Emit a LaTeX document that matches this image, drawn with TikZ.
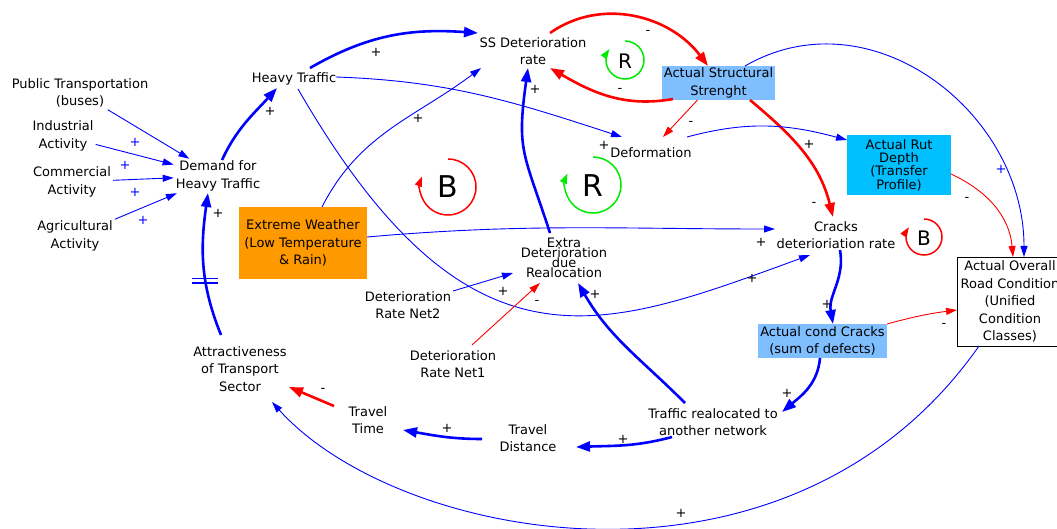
\documentclass[tikz,border=0pt]{standalone}
\usepackage{fontspec}
\setmainfont{DejaVu Sans}
\usetikzlibrary{arrows.meta}
\definecolor{cblue}{RGB}{0,0,255}
\definecolor{cred}{RGB}{255,0,0}
\definecolor{cgreen}{RGB}{0,235,0}
\definecolor{orangebox}{RGB}{255,153,0}
\definecolor{lightbox}{RGB}{128,191,255}
\definecolor{rutbox}{RGB}{0,191,255}
\begin{document}
\begin{tikzpicture}[x=1pt,y=1pt,
  every node/.style={font=\fontsize{13}{17.5}\selectfont, align=center, inner sep=2pt, text=black},
  boxnode/.style={inner sep=0pt},
  lnk/.style={color=cblue, line width=0.9pt, -{Triangle[length=11pt,width=7pt]}},
  lnkr/.style={lnk, color=cred},
  lnkb/.style={color=cblue, line width=2.6pt, -{Triangle[length=14pt,width=10pt]}},
  lnkbr/.style={lnkb, color=cred},
  loopr/.style={color=cred, line width=1.5pt, -{Triangle[length=10pt,width=7pt]}},
  loopg/.style={loopr, color=cgreen},
  bigletter/.style={font=\fontsize{30}{30}\selectfont, inner sep=0pt},
  smallletter/.style={font=\fontsize{20}{20}\selectfont, inner sep=0pt},
  sgn/.style={inner sep=0pt},
  bsgn/.style={inner sep=0pt, text=cblue},
  tight/.style={font={\fontsize{13}{13.3}\selectfont\lineskiplimit=-50pt}},
  squeezed/.style={font={\fontsize{13}{10}\selectfont\lineskiplimit=-50pt}}
]
\fill[white] (0,0) rectangle (1057,-529);
\path[use as bounding box] (0,0) rectangle (1057,-529);

% ---------- variables ----------
\node (pt) at (80,-93) {Public Transportation\\(buses)};
\node (ia) at (63,-136) {Industrial\\Activity};
\node (ca) at (72,-182) {Commercial\\Activity};
\node (aa) at (75,-236) {Agricultural\\Activity};
\node (dem) at (218,-176) {Demand for\\Heavy Traffic};
\node (ht) at (294,-79) {Heavy Traffic};
\node (ss) at (533,-51) {SS Deterioration\\rate};
\node[boxnode, fill=lightbox, minimum width=113pt, minimum height=34pt] (ass) at (718.5,-83) {Actual Structural\\Strenght};
\node (def) at (651,-153) {Deformation};
\node[boxnode, tight, fill=rutbox, minimum width=104pt, minimum height=60pt] (ard) at (899,-165) {Actual Rut\\Depth\\(Transfer\\Profile)};
\node (cdr) at (836,-235) {Cracks\\deterioriation rate};
\node[boxnode, draw=black, line width=0.8pt, fill=white, minimum width=106pt, minimum height=89pt] (aor) at (1010,-301.5) {Actual Overall\\Road Condition\\(Unified\\Condition\\Classes)};
\node[boxnode, fill=orangebox, minimum width=128pt, minimum height=72pt] (ew) at (303,-243) {Extreme Weather\\(Low Temperature\\\& Rain)};
\node[squeezed] (edr) at (564,-258) {Extra\\Deterioration\\due\\Realocation};
\node (drn2) at (408,-305) {Deterioration\\Rate Net2};
\node (drn1) at (453,-364) {Deterioration\\Rate Net1};
\node (att) at (240,-369) {Attractiveness\\of Transport\\Sector};
\node (tt) at (368,-420) {Travel\\Time};
\node (td) at (528,-438) {Travel\\Distance};
\node (tra) at (713,-422) {Traffic realocated to\\another network};
\node[boxnode, fill=lightbox, minimum width=129pt, minimum height=34pt] (acc) at (822.5,-341) {Actual cond Cracks\\(sum of defects)};

% ---------- connectors ----------
\draw[lnk] (pt) -- (dem);
\draw[lnk] (ia) -- (dem);
\draw[lnk] (ca) -- (dem);
\draw[lnk] (aa) -- (dem);
\draw[lnkb] ([shift={(4,16)}]dem.center) to[out=65,in=228] ([shift={(-17,-9)}]ht.center);
\draw[lnkb] ([shift={(16,11)}]ht.center) to[out=30,in=176] ([shift={(-55,18)}]ss.center);
\draw[lnk] ([shift={(42,2)}]ht.center) to[out=-2,in=162] ([shift={(-29,16)}]def.center);
\draw[lnk] ([shift={(4,-10)}]ht.center) .. controls +(-60:343) and +(200:222) .. ([shift={(-26,-20)}]cdr.center);
\draw[lnk] ([shift={(19,36)}]ew.center) to[out=63,in=217] ([shift={(-52,-17)}]ss.center);
\draw[lnk] ([shift={(64,6)}]ew.center) to[out=5,in=180] ([shift={(-61,6)}]cdr.center);
\draw[lnkb] ([shift={(-14,25)}]edr.center) to[out=108,in=262,looseness=1.3] ([shift={(-5,-17)}]ss.center);
\draw[lnkbr] ([shift={(17,18)}]ss.center) to[out=35,in=127] ([shift={(-10.5,17)}]ass.center);
\draw[lnkbr] ([shift={(-45.5,-16)}]ass.center) to[out=190,in=-30] ([shift={(17,-17)}]ss.center);
\draw[lnkr] ([shift={(-21,-17)}]ass.center) -- ([shift={(12,16)}]def.center);
\draw[lnkbr] ([shift={(31.5,-17)}]ass.center) to[out=-40,in=104] ([shift={(-3,18)}]cdr.center);
\draw[lnk] ([shift={(26.5,17)}]ass.center) to[out=30,in=90,looseness=1.1] ([shift={(14,44.5)}]aor.center);
\draw[lnk] ([shift={(36,16)}]def.center) to[out=15,in=165] ([shift={(-52,25)}]ard.center);
\draw[lnkr] ([shift={(52,-9)}]ard.center) to[out=-25,in=95] ([shift={(3,44.5)}]aor.center);
\draw[lnkb] ([shift={(4,-15)}]cdr.center) to[out=-80,in=100] ([shift={(10.5,17)}]acc.center);
\draw[lnkr] ([shift={(64.5,17)}]acc.center) to[bend left=4] ([shift={(-53,-8.5)}]aor.center);
\draw[lnkb] ([shift={(-2.5,-17)}]acc.center) to[out=-95,in=40] ([shift={(69,10)}]tra.center);
\draw[lnkb] ([shift={(-28,19)}]tra.center) to[out=135,in=-60] ([shift={(14,-25)}]edr.center);
\draw[lnkb] ([shift={(-41,-15)}]tra.center) to[out=195,in=2] ([shift={(48,-9)}]td.center);
\draw[lnkb] ([shift={(-46,-1)}]td.center) to[out=180,in=-10] ([shift={(35,-10)}]tt.center);
\draw[lnkbr] ([shift={(-34,14)}]tt.center) -- ([shift={(49,-18)}]att.center);
\draw[lnk] ([shift={(-31,-44.5)}]aor.center) .. controls +(235:330) and +(-48:190) .. ([shift={(32,-33)}]att.center);
\draw[lnkb] ([shift={(-19,34)}]att.center) to[out=112,in=262] ([shift={(-10,-17)}]dem.center);
\draw[lnk] ([shift={(45,14)}]drn2.center) -- ([shift={(-51,-15)}]edr.center);
\draw[lnkr] ([shift={(19,19)}]drn1.center) -- ([shift={(-24,-25)}]edr.center);

% delay mark
\draw[cblue, line width=1.6pt] (192,-278.5) -- (218,-278.5) (192,-283) -- (218,-283);

% ---------- loops ----------
\draw[loopr] (448,-187) ++(90:28) arc[start angle=90, end angle=-202, radius=28];
\node[bigletter] (lb1) at (448,-187) {B};
\draw[loopg] (593,-185) ++(90:28) arc[start angle=90, end angle=-204, radius=28];
\node[bigletter] (lr1) at (593,-186) {R};
\draw[loopg] (625,-60) ++(90:19) arc[start angle=90, end angle=-215, radius=19];
\node[smallletter] (lr2) at (625,-61) {R};
\draw[loopr] (924,-237) ++(90:18) arc[start angle=90, end angle=-213, radius=18];
\node[smallletter] (lb2) at (924,-238) {B};

% ---------- polarity signs ----------
\node[bsgn] (b1) at (135,-142) {+};
\node[bsgn] (b2) at (125,-165) {+};
\node[bsgn] (b3) at (135,-192) {+};
\node[bsgn] (b4) at (143,-220) {+};
\node[bsgn] (b5) at (1001,-169) {+};
\node[sgn] (p1) at (270,-111) {+};
\node[sgn] (p2) at (376,-52) {+};
\node[sgn] (p3) at (418,-118) {+};
\node[sgn] (p4) at (535,-89) {+};
\node[sgn] (p5) at (604,-145) {+};
\node[sgn] (p6) at (809,-144) {+};
\node[sgn] (p7) at (218,-213) {+};
\node[sgn] (p8) at (761,-242) {+};
\node[sgn] (p9) at (752,-278) {+};
\node[sgn] (p10) at (827,-304) {+};
\node[sgn] (p11) at (787,-393) {+};
\node[sgn] (p12) at (503,-291) {+};
\node[sgn] (p13) at (595,-294) {+};
\node[sgn] (p14) at (447,-428) {+};
\node[sgn] (p15) at (623,-439) {+};
\node[sgn] (p16) at (681,-513) {+};
\node[sgn] (m1) at (648,-32) {-};
\node[sgn] (m2) at (620,-90) {-};
\node[sgn] (m3) at (691,-123) {-};
\node[sgn] (m4) at (814,-204) {-};
\node[sgn] (m5) at (967,-199) {-};
\node[sgn] (m6) at (944,-325) {-};
\node[sgn] (m7) at (537,-302) {-};
\node[sgn] (m8) at (323,-390) {-};
\end{tikzpicture}
\end{document}
